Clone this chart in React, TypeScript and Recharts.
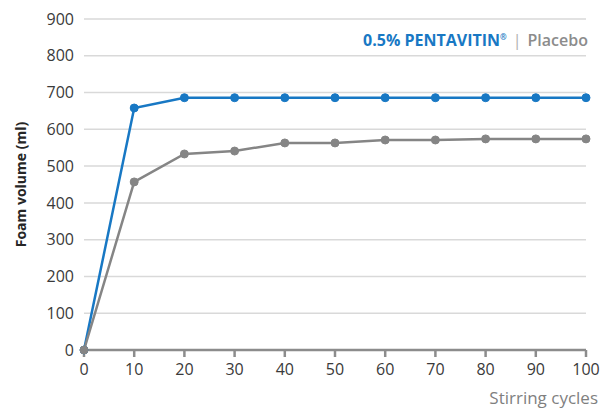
import { CartesianGrid, Line, LineChart, XAxis, YAxis } from 'recharts'

const cycles = [0, 10, 20, 30, 40, 50, 60, 70, 80, 90, 100]
const pentavitin = [0, 658, 686, 686, 686, 686, 686, 686, 686, 686, 686]
const placebo = [0, 457, 533, 541, 563, 563, 571, 571, 574, 574, 574]
const xTicks = [0, 10, 20, 30, 40, 50, 60, 70, 80, 90, 100]
const yTicks = [0, 100, 200, 300, 400, 500, 600, 700, 800, 900]

const BLUE = '#1878c4'
const GRAY = '#858585'
const FONT = '"Open Sans", "Noto Sans", sans-serif'

const data = cycles.map((c, i) => ({
  cycle: c,
  pentavitin: pentavitin[i],
  placebo: placebo[i],
}))

export default function App() {
  return (
    <div style={{ position: 'absolute', left: 0, top: 0, width: 600, height: 412, fontFamily: FONT, background: '#fff' }}>
      <LineChart
        width={600}
        height={412}
        data={data}
        margin={{ top: 19, right: 14, bottom: 32, left: 34 }}
      >
        <CartesianGrid horizontal vertical={false} stroke="#d9d9d9" strokeWidth={1.5} />
        <XAxis
          dataKey="cycle"
          type="number"
          domain={[0, 100]}
          ticks={xTicks}
          interval={0}
          height={30}
          stroke="#8c8c8c"
          strokeWidth={2.5}
          tickSize={7}
          tick={{ fill: '#3a3a3a', fontSize: 16, fontFamily: FONT }}
          tickMargin={7}
        />
        <YAxis
          type="number"
          domain={[0, 900]}
          ticks={yTicks}
          interval={0}
          width={50}
          axisLine={false}
          tickLine={false}
          tick={{ fill: '#3a3a3a', fontSize: 16, fontFamily: FONT }}
          tickMargin={4}
          label={{
            value: 'Foam volume (ml)',
            angle: -90,
            position: 'insideLeft',
            offset: -13,
            style: { textAnchor: 'middle', fill: '#262626', fontSize: 14, fontWeight: 700, fontFamily: FONT },
          }}
        />
        <Line
          type="linear"
          dataKey="pentavitin"
          stroke={BLUE}
          strokeWidth={2.5}
          dot={{ r: 4, fill: BLUE, stroke: BLUE, strokeWidth: 1 }}
          isAnimationActive={false}
        />
        <Line
          type="linear"
          dataKey="placebo"
          stroke={GRAY}
          strokeWidth={2.5}
          dot={{ r: 4, fill: GRAY, stroke: GRAY, strokeWidth: 1 }}
          isAnimationActive={false}
        />
      </LineChart>
      <div
        style={{
          position: 'absolute',
          right: 12,
          top: 29,
          fontSize: 16,
          whiteSpace: 'nowrap',
        }}
      >
        <span style={{ color: BLUE, fontWeight: 700 }}>0.5% PENTAVITIN</span>
        <sup style={{ color: BLUE, fontWeight: 700, fontSize: 8 }}>®</sup>
        <span style={{ color: '#b0b0b0', margin: '0 6px' }}>|</span>
        <span style={{ color: '#8c8c8c', fontWeight: 600 }}>Placebo</span>
      </div>
      <div
        style={{
          position: 'absolute',
          right: 2,
          top: 386,
          fontSize: 17,
          color: '#7f7f7f',
          whiteSpace: 'nowrap',
        }}
      >
        Stirring cycles
      </div>
    </div>
  )
}
